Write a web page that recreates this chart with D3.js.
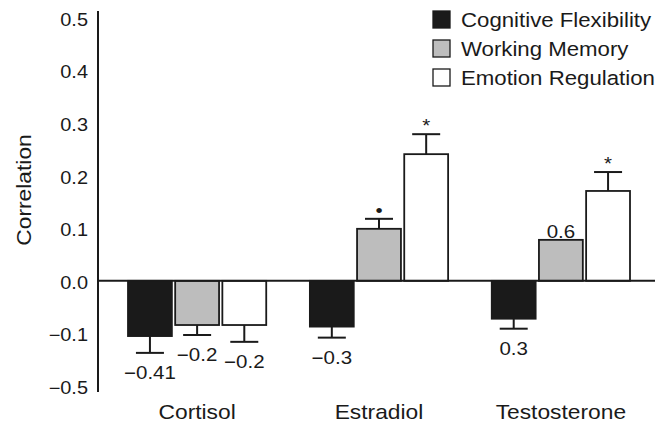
<!DOCTYPE html>
<html>
<head>
<meta charset="utf-8">
<script src="https://cdn.jsdelivr.net/npm/d3@7"></script>
<style>
  body { margin: 0; background: #fff; }
  text { font-family: "Liberation Sans", Arial, sans-serif; fill: #1a1a1a; }
</style>
</head>
<body>
<div id="chart"></div>
<script>
// chart values
const categories = ["Cortisol", "Estradiol", "Testosterone"];
const seriesNames = ["Cognitive Flexibility", "Working Memory", "Emotion Regulation"];
const cogFlex = [-0.105, -0.087, -0.072];
const workMem = [-0.084, 0.099, 0.078];
const emoReg = [-0.084, 0.241, 0.171];
const cogFlexErr = [0.032, 0.021, 0.019];
const workMemErr = [0.019, 0.019, 0];
const emoRegErr = [0.032, 0.038, 0.036];
const cogFlexNote = ["\u22120.41", "\u22120.3", "0.3"];
const workMemNote = ["\u22120.2", "\u2022", "0.6"];
const emoRegNote = ["\u22120.2", "*", "*"];
// the axis is broken: last tick sits where -0.2 would be but reads -0.5
const tickPos = [0.5, 0.4, 0.3, 0.2, 0.1, 0, -0.1, -0.2];
const tickText = ["0.5", "0.4", "0.3", "0.2", "0.1", "0.0", "\u22120.1", "\u22120.5"];

const width = 655, height = 425;
const fills = ["#1a1a1a", "#bdbdbd", "#ffffff"];
const wide = 1.14; // the original lettering is a little stretched sideways

const svg = d3.select("#chart").append("svg")
  .attr("width", width)
  .attr("height", height);

const y = d3.scaleLinear().domain([-0.2, 0.5]).range([386, 18]);
const x0 = d3.scaleBand().domain(categories).range([128, 630]).paddingInner(0.24).paddingOuter(0);
const x1 = d3.scaleBand().domain(seriesNames).range([0, x0.bandwidth()]).paddingInner(0.07);

// build rows for drawing
const values = [cogFlex, workMem, emoReg];
const errs = [cogFlexErr, workMemErr, emoRegErr];
const notes = [cogFlexNote, workMemNote, emoRegNote];
const rows = [];
categories.forEach((c, i) => {
  seriesNames.forEach((s, j) => {
    rows.push({cat: c, ser: s, idx: j, v: values[j][i], e: errs[j][i], note: notes[j][i]});
  });
});

// y axis (labels only)
const yAxis = svg.append("g")
  .attr("transform", "translate(98,0)")
  .call(d3.axisLeft(y).tickValues(tickPos).tickSize(0).tickPadding(0)
    .tickFormat((d, i) => tickText[i]));
yAxis.select(".domain").remove();
yAxis.selectAll("text")
  .attr("x", null)
  .attr("transform", `translate(-10,0) scale(${wide},1)`)
  .attr("font-size", "17.5px")
  .attr("font-family", "Liberation Sans, Arial, sans-serif")
  .attr("fill", "#1a1a1a")
  .attr("dy", "0.42em");

svg.append("line")
  .attr("x1", 98).attr("x2", 98)
  .attr("y1", 11).attr("y2", 392)
  .attr("stroke", "#1a1a1a").attr("stroke-width", 2);

svg.append("text")
  .attr("transform", `translate(31,190) rotate(-90) scale(${wide},1)`)
  .attr("text-anchor", "middle")
  .attr("font-size", "20px")
  .text("Correlation");

// bars
const bx = d => x0(d.cat) + x1(d.ser);
svg.selectAll(".bar")
  .data(rows)
  .enter()
  .append("rect")
    .attr("class", "bar")
    .attr("x", d => bx(d))
    .attr("width", x1.bandwidth())
    .attr("y", d => y(Math.max(0, d.v)))
    .attr("height", d => Math.abs(y(d.v) - y(0)))
    .attr("fill", d => fills[d.idx])
    .attr("stroke", "#1a1a1a")
    .attr("stroke-width", 1.8);

// zero line
svg.append("line")
  .attr("x1", 98).attr("x2", width)
  .attr("y1", y(0)).attr("y2", y(0))
  .attr("stroke", "#1a1a1a").attr("stroke-width", 2);

// error bars
const errEnd = d => d.v < 0 ? d.v - d.e : d.v + d.e;
const withErr = rows.filter(d => d.e > 0);
svg.selectAll(".err")
  .data(withErr)
  .enter()
  .append("line")
    .attr("x1", d => bx(d) + x1.bandwidth() / 2)
    .attr("x2", d => bx(d) + x1.bandwidth() / 2)
    .attr("y1", d => y(d.v))
    .attr("y2", d => y(errEnd(d)))
    .attr("stroke", "#1a1a1a").attr("stroke-width", 2);
svg.selectAll(".cap")
  .data(withErr)
  .enter()
  .append("line")
    .attr("x1", d => bx(d) + x1.bandwidth() / 2 - 14)
    .attr("x2", d => bx(d) + x1.bandwidth() / 2 + 14)
    .attr("y1", d => y(errEnd(d)))
    .attr("y2", d => y(errEnd(d)))
    .attr("stroke", "#1a1a1a").attr("stroke-width", 2);

// notes beside the error bars
svg.selectAll(".note")
  .data(rows)
  .enter()
  .append("text")
    .attr("transform", d => {
      const nx = bx(d) + x1.bandwidth() / 2;
      const ny = d.v < 0 ? y(errEnd(d)) + 26 : y(errEnd(d)) - 2;
      return `translate(${nx},${ny}) scale(${wide},1)`;
    })
    .attr("text-anchor", "middle")
    .attr("font-size", "18px")
    .text(d => d.note);

// category labels
svg.selectAll(".cat")
  .data(categories)
  .enter()
  .append("text")
    .attr("transform", d => `translate(${x0(d) + x0.bandwidth() / 2},419) scale(${wide},1)`)
    .attr("text-anchor", "middle")
    .attr("font-size", "20px")
    .text(d => d);

// legend
const legend = svg.selectAll(".leg")
  .data(seriesNames)
  .enter()
  .append("g")
    .attr("transform", (d, i) => `translate(433,${11 + i * 29})`);
legend.append("rect")
  .attr("width", 17).attr("height", 17)
  .attr("fill", (d, i) => fills[i])
  .attr("stroke", "#1a1a1a").attr("stroke-width", 1.3);
legend.append("text")
  .attr("transform", `translate(28,16) scale(${wide},1)`)
  .attr("font-size", "19.5px")
  .text(d => d);
</script>
</body>
</html>
